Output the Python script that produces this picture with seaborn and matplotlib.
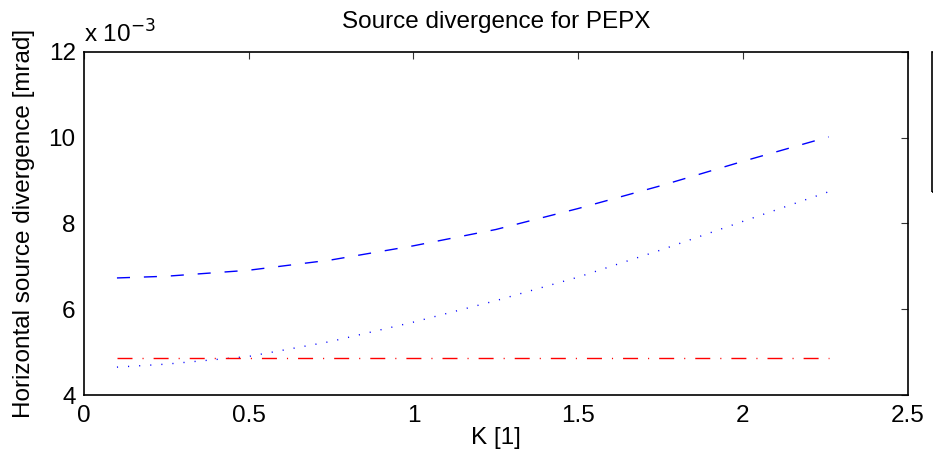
import numpy as np
import pandas as pd
import seaborn as sns
import matplotlib
matplotlib.use("Agg")
import matplotlib.pyplot as plt
from matplotlib.patches import Rectangle

# Undulator deflection parameter K and horizontal source divergence (units of 1e-3 mrad)
k_values = [0.1, 0.25, 0.5, 0.75, 1.0, 1.25, 1.5, 1.75, 2.0, 2.26]
div_total = [6.73, 6.77, 6.91, 7.15, 7.48, 7.86, 8.35, 8.88, 9.45, 10.02]
div_photon = [4.65, 4.72, 4.90, 5.25, 5.70, 6.20, 6.75, 7.38, 8.05, 8.74]
div_electron = [4.87, 4.87, 4.87, 4.87, 4.87, 4.87, 4.87, 4.87, 4.87, 4.87]

x_ticks = [0, 0.5, 1, 1.5, 2, 2.5]
x_tick_labels = ["0", "0.5", "1", "1.5", "2", "2.5"]
y_ticks = [4, 6, 8, 10, 12]
y_tick_labels = ["4", "6", "8", "10", "12"]

df = pd.DataFrame({
    "K": k_values * 3,
    "div": div_total + div_photon + div_electron,
    "series": ["total"] * len(k_values) + ["photon"] * len(k_values) + ["electron"] * len(k_values),
})

FS = 17.5

sns.set_style("white")
plt.rcParams["font.family"] = ["Liberation Sans", "DejaVu Sans"]
plt.rcParams["font.size"] = FS
plt.rcParams["text.color"] = "black"
plt.rcParams["axes.labelcolor"] = "black"

fig = plt.figure(figsize=(9.33, 4.65), dpi=100)
ax = fig.add_axes([84 / 933, 70 / 465, (907.7 - 84) / 933, (395 - 52) / 465])

styles = {
    "total": dict(color="#0000ff", lw=1.0, dashes=(9.4, 10.0)),
    "photon": dict(color="#0000ff", lw=1.0, dashes=(0.8, 7.2)),
    "electron": dict(color="#ff0000", lw=1.0, dashes=(10.8, 7.2, 0.8, 7.2)),
}
for name in ["total", "photon", "electron"]:
    st = styles[name]
    line_ax = sns.lineplot(data=df[df["series"] == name], x="K", y="div", ax=ax,
                           color=st["color"], lw=st["lw"], legend=False)
    line_ax.lines[-1].set_dashes(st["dashes"])

ax.set_xlim(0, 2.5)
ax.set_ylim(4, 12)
ax.set_xticks(x_ticks)
ax.set_xticklabels(x_tick_labels)
ax.set_yticks(y_ticks)
ax.set_yticklabels(y_tick_labels)

for side in ["left", "right", "top", "bottom"]:
    ax.spines[side].set_visible(True)
    ax.spines[side].set_color("black")
    ax.spines[side].set_linewidth(1.2)

ax.tick_params(axis="both", which="both", direction="in", length=5, width=0.8,
               color="#333333", top=True, right=True, labelsize=FS,
               labelcolor="black")
ax.tick_params(axis="x", pad=7)
ax.tick_params(axis="y", pad=6)

ax.set_xlabel("K [1]", fontsize=FS, labelpad=0)
ax.set_ylabel("Horizontal source divergence [mrad]", fontsize=FS, labelpad=10)
ax.set_title("Source divergence for PEPX", fontsize=FS, pad=17, color="black")
ax.text(0.0, 1.012, r"x 10$^{-3}$", transform=ax.transAxes, fontsize=FS,
        ha="left", va="bottom")

# Legend frame at the right edge of the figure
fig.patches.append(Rectangle((932 / 933, (465 - 192) / 465), 0.1, 140 / 465,
                             transform=fig.transFigure, fill=False,
                             edgecolor="black", lw=1.2))

fig.savefig("out.png", dpi=100, facecolor="white")
